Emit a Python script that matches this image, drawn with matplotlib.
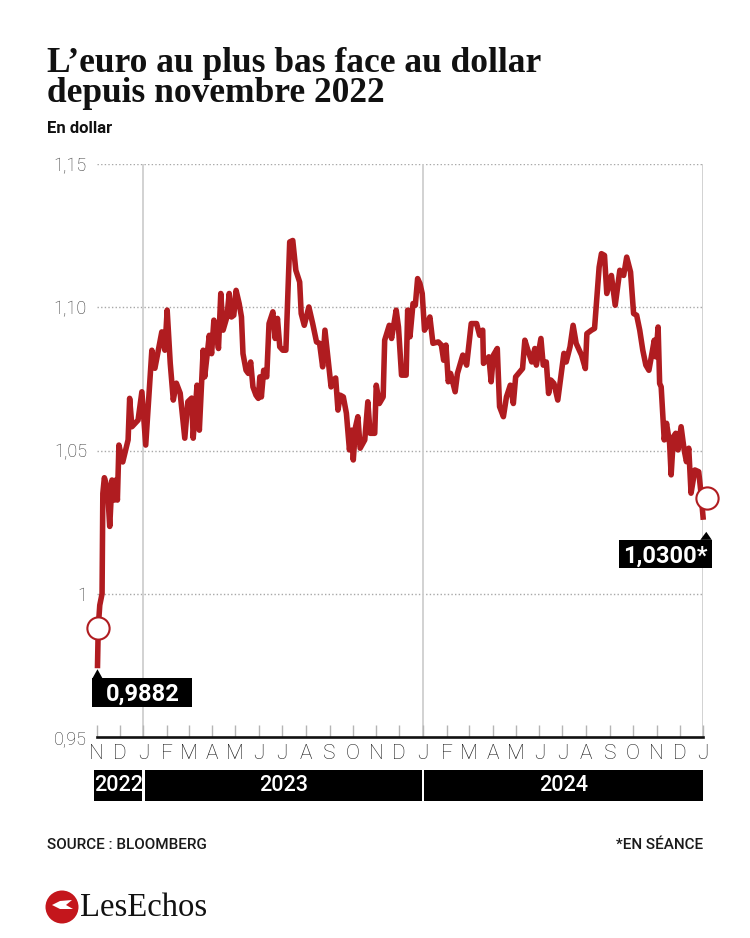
import numpy as np
import matplotlib
matplotlib.use("Agg")
import matplotlib.pyplot as plt
import matplotlib.dates as mdates
from matplotlib.patches import Rectangle, Polygon, Circle
from matplotlib.ticker import FuncFormatter, FixedLocator, FixedFormatter
from matplotlib.transforms import Affine2D, ScaledTranslation, blended_transform_factory

# EUR/USD
dates = [
    "2022-11-02", "2022-11-03", "2022-11-05", "2022-11-08", "2022-11-09", "2022-11-11",
    "2022-11-15", "2022-11-18", "2022-11-21", "2022-11-24", "2022-11-26", "2022-11-28",
    "2022-11-30", "2022-12-05", "2022-12-12", "2022-12-14", "2022-12-17", "2022-12-25",
    "2022-12-30", "2023-01-04", "2023-01-12", "2023-01-16", "2023-01-25", "2023-01-29",
    "2023-02-01", "2023-02-05", "2023-02-09", "2023-02-13", "2023-02-18", "2023-02-24",
    "2023-02-28", "2023-03-05", "2023-03-07", "2023-03-12", "2023-03-15", "2023-03-20",
    "2023-03-22", "2023-03-28", "2023-03-31", "2023-04-03", "2023-04-06", "2023-04-09",
    "2023-04-12", "2023-04-15", "2023-04-20", "2023-04-23", "2023-04-26", "2023-04-29",
    "2023-05-02", "2023-05-06", "2023-05-09", "2023-05-11", "2023-05-15", "2023-05-18",
    "2023-05-21", "2023-05-24", "2023-05-28", "2023-05-31", "2023-06-02", "2023-06-04",
    "2023-06-07", "2023-06-11", "2023-06-14", "2023-06-19", "2023-06-22", "2023-06-25",
    "2023-06-28", "2023-07-02", "2023-07-06", "2023-07-11", "2023-07-15", "2023-07-19",
    "2023-07-24", "2023-07-26", "2023-07-30", "2023-08-05", "2023-08-10", "2023-08-15",
    "2023-08-19", "2023-08-23", "2023-08-26", "2023-09-03", "2023-09-06", "2023-09-09",
    "2023-09-12", "2023-09-15", "2023-09-19", "2023-09-23", "2023-09-27", "2023-09-30",
    "2023-10-02", "2023-10-05", "2023-10-08", "2023-10-11", "2023-10-17", "2023-10-21",
    "2023-10-24", "2023-10-30", "2023-11-01", "2023-11-05", "2023-11-10", "2023-11-12",
    "2023-11-18", "2023-11-21", "2023-11-27", "2023-11-30", "2023-12-04", "2023-12-10",
    "2023-12-12", "2023-12-15", "2023-12-19", "2023-12-22", "2023-12-25", "2023-12-28",
    "2023-12-31", "2024-01-03", "2024-01-06", "2024-01-10", "2024-01-14", "2024-01-21",
    "2024-01-25", "2024-01-28", "2024-01-31", "2024-02-03", "2024-02-06", "2024-02-12",
    "2024-02-15", "2024-02-22", "2024-02-27", "2024-03-04", "2024-03-11", "2024-03-15",
    "2024-03-19", "2024-03-20", "2024-03-24", "2024-03-27", "2024-03-30", "2024-04-02",
    "2024-04-07", "2024-04-10", "2024-04-15", "2024-04-19", "2024-04-24", "2024-04-28",
    "2024-05-01", "2024-05-10", "2024-05-13", "2024-05-17", "2024-05-22", "2024-05-26",
    "2024-05-28", "2024-06-03", "2024-06-06", "2024-06-10", "2024-06-13", "2024-06-16",
    "2024-06-20", "2024-06-25", "2024-07-03", "2024-07-06", "2024-07-11", "2024-07-15",
    "2024-07-19", "2024-07-26", "2024-07-31", "2024-08-02", "2024-08-08", "2024-08-12",
    "2024-08-18", "2024-08-21", "2024-08-25", "2024-08-28", "2024-09-03", "2024-09-08",
    "2024-09-14", "2024-09-19", "2024-09-23", "2024-09-28", "2024-10-02", "2024-10-06",
    "2024-10-10", "2024-10-14", "2024-10-18", "2024-10-22", "2024-10-26", "2024-10-29",
    "2024-10-31", "2024-11-03", "2024-11-05", "2024-11-07", "2024-11-11", "2024-11-14",
    "2024-11-18", "2024-11-20", "2024-11-23", "2024-11-26", "2024-11-29", "2024-12-03",
    "2024-12-07", "2024-12-10", "2024-12-13", "2024-12-16", "2024-12-21", "2024-12-26",
    "2024-12-29", "2025-01-01",
]
values = [
    0.974, 0.9882, 0.996, 1.000, 1.035, 1.0405,
    1.037, 1.0235, 1.0397, 1.0327, 1.0397, 1.0327,
    1.0519, 1.046, 1.0537, 1.0682, 1.0583, 1.0606,
    1.0705, 1.0519, 1.085, 1.0787, 1.0914, 1.085,
    1.099, 1.0805, 1.0676, 1.0735, 1.070, 1.0543,
    1.067, 1.0683, 1.0543, 1.0728, 1.0571, 1.085,
    1.0757, 1.0902, 1.0838, 1.0955, 1.092, 1.0856,
    1.1048, 1.092, 1.0966, 1.1048, 1.0966, 1.0972,
    1.1059, 1.1013, 1.0966, 1.0838, 1.078, 1.0769,
    1.0809, 1.0722, 1.0693, 1.0682, 1.0757, 1.0687,
    1.078, 1.0757, 1.0943, 1.0984, 1.0891, 1.0961,
    1.0862, 1.085, 1.085, 1.1228, 1.1233, 1.1129,
    1.1088, 1.0978, 1.0937, 1.1001, 1.0943, 1.0879,
    1.0874, 1.0792, 1.092, 1.0722, 1.0746, 1.0753,
    1.0641, 1.0693, 1.0687, 1.063, 1.0502, 1.0571,
    1.0467, 1.0583, 1.0618, 1.0508, 1.0537, 1.067,
    1.056, 1.056, 1.0728, 1.0664, 1.0687, 1.0885,
    1.0937, 1.0891, 1.099, 1.0931, 1.0763, 1.0763,
    1.099, 1.0897, 1.1013, 1.1007, 1.110, 1.1083,
    1.1048, 1.092, 1.0937, 1.0966, 1.0874, 1.0879,
    1.0868, 1.0815, 1.0868, 1.074, 1.0769, 1.0705,
    1.0769, 1.0833, 1.0798, 1.0943, 1.0943, 1.0902,
    1.092, 1.0804, 1.0815, 1.0827, 1.074, 1.0833,
    1.0856, 1.0653, 1.0618, 1.0687, 1.0728, 1.0664,
    1.0757, 1.0786, 1.0885, 1.085, 1.0809, 1.0856,
    1.0798, 1.0891, 1.0798, 1.0809, 1.0699, 1.0746,
    1.0734, 1.0676, 1.0839, 1.0809, 1.0862, 1.0937,
    1.0874, 1.0833, 1.0786, 1.0908, 1.092, 1.0926,
    1.114, 1.1187, 1.1181, 1.1048, 1.1111, 1.1007,
    1.1129, 1.1111, 1.1175, 1.1123, 1.0978, 1.0972,
    1.092, 1.085, 1.0798, 1.078, 1.0839, 1.0885,
    1.0827, 1.0931, 1.0734, 1.0722, 1.0537, 1.0595,
    1.0525, 1.0415, 1.0548, 1.056, 1.0502, 1.0583,
    1.0502, 1.0461, 1.0508, 1.0351, 1.0432, 1.0426,
    1.0351, 1.0258,
]

low_date = "2022-11-03"
low_value = 0.9882
low_label = "0,9882"
end_date = "2025-01-06"
end_value = 1.0335
end_label = "1,0300*"

y_ticks = [0.95, 1.00, 1.05, 1.10, 1.15]
y_labels = ["0,95", "1", "1,05", "1,10", "1,15"]
month_letters = ["J", "F", "M", "A", "M", "J", "J", "A", "S", "O", "N", "D"]
years = [2022, 2023, 2024]

RED = "#b01c20"

plt.rcParams["font.family"] = ["Roboto", "DejaVu Sans"]
plt.rcParams["font.weight"] = "light"

W, H = 750, 938
fig = plt.figure(figsize=(W / 100, H / 100), dpi=100)
ax = fig.add_axes([96.7 / W, 1 - 737 / H, (703.3 - 96.7) / W, (737 - 164) / H])

x = np.array(dates, dtype="datetime64[D]")
ax.set_xlim(np.datetime64("2022-11-01"), np.datetime64("2025-01-01"))
ax.set_ylim(0.95, 1.15)

# grid
for v in y_ticks[1:]:
    ax.axhline(v, color="#a8a8a8", lw=1, ls=(0, (1, 1.6)), zorder=1)
for yr in years[1:] + [2025]:
    ax.axvline(np.datetime64(f"{yr}-01-01"), color="#cfcfcf", lw=1.3, zorder=1)

ax.plot(x, values, color=RED, lw=4, solid_joinstyle="round",
        solid_capstyle="butt", zorder=3, clip_on=False)

# markers
for d, v in [(low_date, low_value), (end_date, end_value)]:
    ax.plot([np.datetime64(d)], [v], marker="o", ms=16, mfc="white", mec=RED,
            mew=1.5, zorder=5, clip_on=False)

# axes styling
for s in ["top", "right", "left"]:
    ax.spines[s].set_visible(False)
ax.spines["bottom"].set_linewidth(1.9)
ax.spines["bottom"].set_color("#111111")

ax.yaxis.set_major_locator(FixedLocator(y_ticks))
ax.yaxis.set_major_formatter(FixedFormatter(y_labels))
ax.tick_params(axis="y", length=0, pad=7, labelsize=13, labelcolor="#333333")

ax.xaxis.set_major_locator(mdates.MonthLocator())
ax.xaxis.set_major_formatter(FuncFormatter(lambda v, p: month_letters[mdates.num2date(v).month - 1]))
ax.tick_params(axis="x", direction="in", length=9, width=1, color="#b5b5b5",
               pad=5, labelsize=15, labelcolor="#1a1a1a")

# year bars under the month letters
trans = blended_transform_factory(ax.transData, ax.transAxes)
bar_y0, bar_h = -0.1112, 0.0536
for yr in years:
    if yr == 2022:
        start = mdates.date2num(np.datetime64("2022-11-01")) - 3
    else:
        start = mdates.date2num(np.datetime64(f"{yr}-01-01")) + 1.5
    end = mdates.date2num(np.datetime64(f"{yr + 1}-01-01")) - (1.5 if yr < 2024 else 0)
    ax.add_patch(Rectangle((start, bar_y0), end - start, bar_h, transform=trans,
                           facecolor="black", edgecolor="none", clip_on=False))
    ax.text((start + end) / 2, bar_y0 + bar_h / 2, str(yr), transform=trans,
            ha="center", va="center", color="white", fontsize=15.5, fontweight="medium")


def px_from(d, v):
    # pixel offsets relative to a data point
    return Affine2D() + ScaledTranslation(mdates.date2num(np.datetime64(d)), v, ax.transData)


# low label box
t0 = px_from(dates[0], values[0])
ax.add_patch(Rectangle((-5, -39), 100, 29, transform=t0, facecolor="black",
                       edgecolor="none", clip_on=False, zorder=6))
ax.add_patch(Polygon([(0, -1), (-5, -10), (5, -10)], closed=True, transform=t0,
                     facecolor="black", edgecolor="none", clip_on=False, zorder=6))
ax.annotate(low_label, xy=(x[0], values[0]), xytext=(45, -33), textcoords="offset pixels",
            ha="center", va="baseline", color="white", fontsize=17, fontweight="bold",
            zorder=7, annotation_clip=False)

# last value box
t1 = px_from(dates[-1], values[-1])
ax.add_patch(Rectangle((-84.5, -48), 93, 28, transform=t1, facecolor="black",
                       edgecolor="none", clip_on=False, zorder=6))
ax.add_patch(Polygon([(3, -12), (-3, -20), (8.5, -20)], closed=True, transform=t1,
                     facecolor="black", edgecolor="none", clip_on=False, zorder=6))
ax.annotate(end_label, xy=(x[-1], values[-1]), xytext=(-38, -43), textcoords="offset pixels",
            ha="center", va="baseline", color="white", fontsize=17, fontweight="bold",
            zorder=7, annotation_clip=False)

# titles
fig.text(47 / W, 1 - 71.7 / H, "L\u2019euro au plus bas face au dollar",
         family=["Liberation Serif", "DejaVu Serif"], fontweight="bold", fontsize=25.5,
         va="baseline", color="#111111")
fig.text(47 / W, 1 - 101.7 / H, "depuis novembre 2022",
         family=["Liberation Serif", "DejaVu Serif"], fontweight="bold", fontsize=25.5,
         va="baseline", color="#111111")
fig.text(47 / W, 1 - 133.3 / H, "En dollar", fontsize=12, fontweight="bold",
         va="baseline", color="#111111")

# footer
fig.text(47 / W, 1 - 849 / H, "SOURCE : BLOOMBERG", fontsize=11, fontweight="medium",
         va="baseline", color="#1a1a1a")
fig.text(703 / W, 1 - 849 / H, "*EN SÉANCE", fontsize=11, fontweight="medium",
         va="baseline", ha="right", color="#1a1a1a")

# logo
fig.patches.append(Circle((0.62, (H - 907) / 100), 0.165, transform=fig.dpi_scale_trans,
                          facecolor="#c4161c", edgecolor="none"))
fig.patches.append(Polygon([(0.52, 0.33), (0.60, 0.37), (0.72, 0.38), (0.66, 0.33),
                            (0.73, 0.29), (0.60, 0.29)], closed=True,
                           transform=fig.dpi_scale_trans, facecolor="white", edgecolor="none"))
fig.text(80 / W, 1 - 916 / H, "LesEchos", family=["Liberation Serif", "DejaVu Serif"],
         fontsize=23.5, fontweight="normal", va="baseline", color="#111111")

fig.savefig("out.png", dpi=100)
